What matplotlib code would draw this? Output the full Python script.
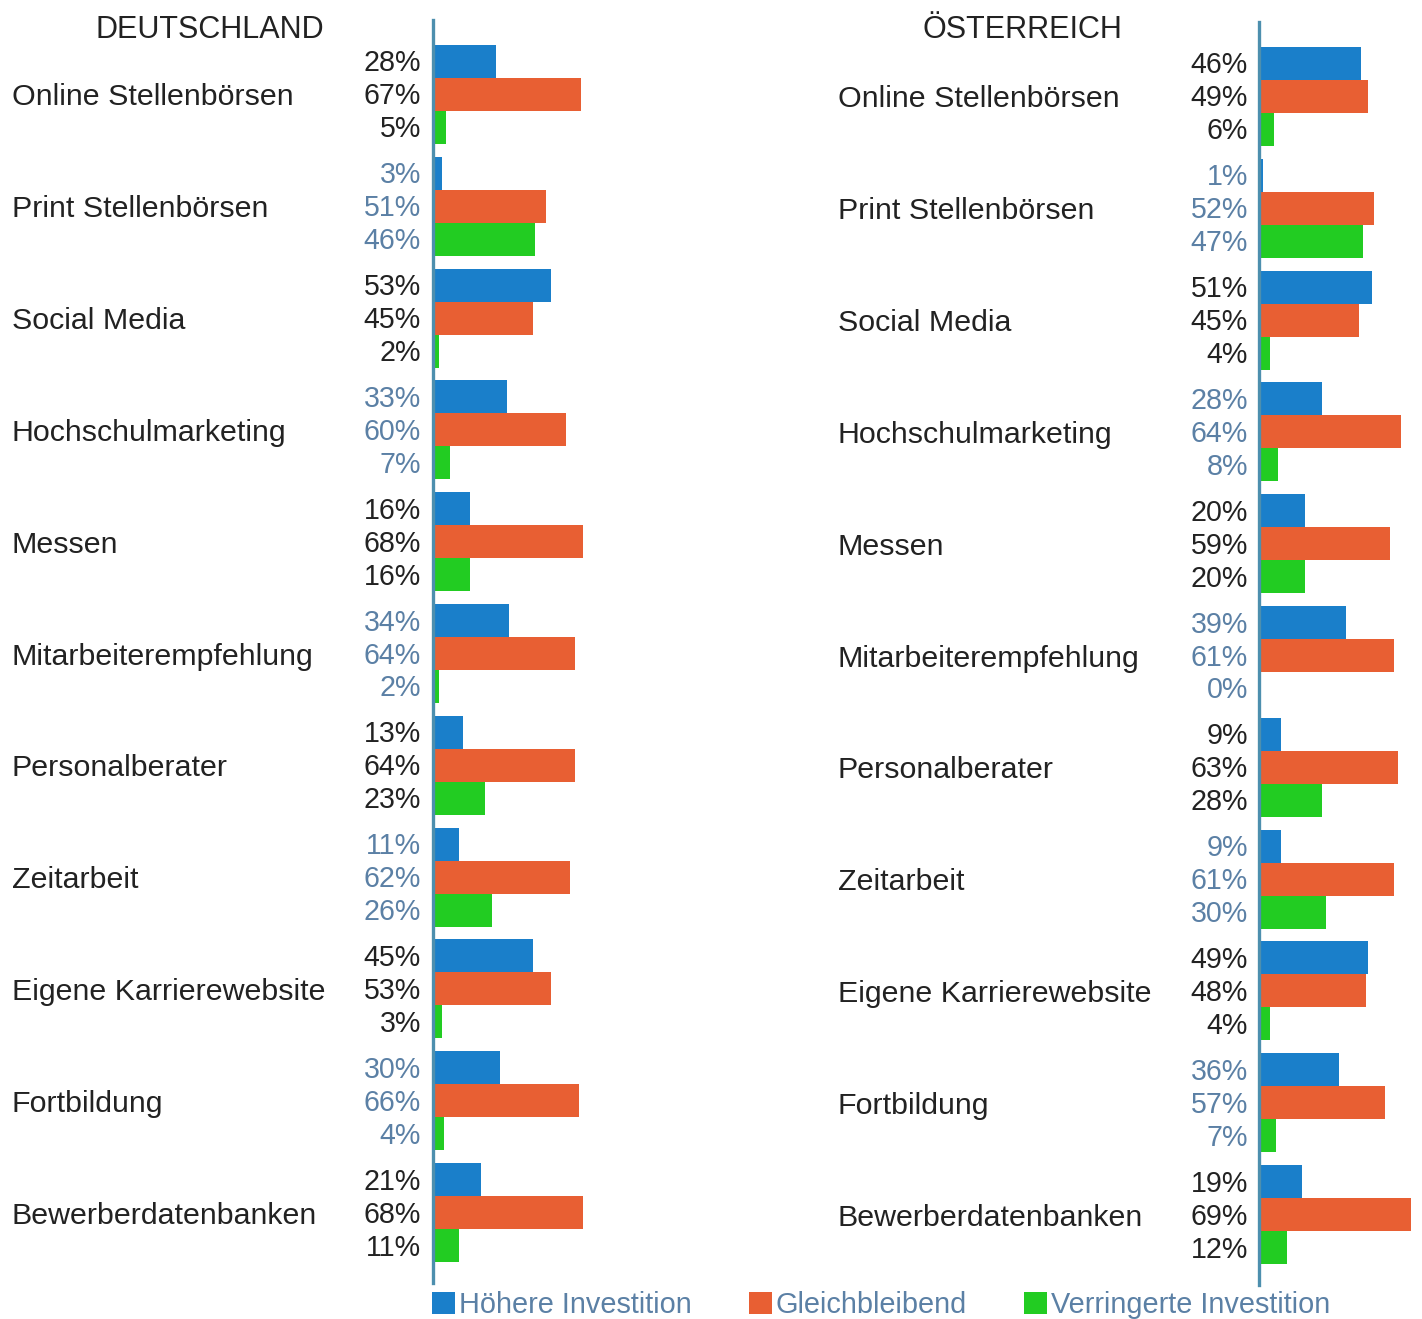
import numpy as np
import matplotlib
matplotlib.use('Agg')
import matplotlib.pyplot as plt
from matplotlib.patches import Patch
from matplotlib.transforms import blended_transform_factory, offset_copy

plt.rcParams['font.family'] = ['Liberation Sans', 'DejaVu Sans']

categories = ['Online Stellenbörsen', 'Print Stellenbörsen', 'Social Media',
              'Hochschulmarketing', 'Messen', 'Mitarbeiterempfehlung',
              'Personalberater', 'Zeitarbeit', 'Eigene Karrierewebsite',
              'Fortbildung', 'Bewerberdatenbanken']
series_names = ['Höhere Investition', 'Gleichbleibend', 'Verringerte Investition']

de_hoeher = [28, 3, 53, 33, 16, 34, 13, 11, 45, 30, 21]
de_gleich = [67, 51, 45, 60, 68, 64, 64, 62, 53, 66, 68]
de_verr = [5, 46, 2, 7, 16, 2, 23, 26, 3, 4, 11]

at_hoeher = [46, 1, 51, 28, 20, 39, 9, 9, 49, 36, 19]
at_gleich = [49, 52, 45, 64, 59, 61, 63, 61, 48, 57, 69]
at_verr = [6, 47, 4, 8, 20, 0, 28, 30, 4, 7, 12]

colors = ['#1a7fca', '#e85f33', '#22cc22']
label_dark = '#222222'
label_blue = '#5b80a5'
axis_col = '#4d8fae'

W, H = 1422, 1319
PX_PER_PCT = 2.18
bar_h = 0.295

fig = plt.figure(figsize=(W / 100, H / 100), dpi=100)


def panel(x0, top, bottom, xmax, data, cat_x, pct_x, title, title_x):
    ax = fig.add_axes([x0 / W, 1 - bottom / H, xmax * PX_PER_PCT / W, (bottom - top) / H])
    y = np.arange(len(categories))
    for k, vals in enumerate(data):
        ax.barh(y + (k - 1) * bar_h, vals, height=bar_h, color=colors[k],
                edgecolor='none')
    ax.set_xlim(0, xmax)
    ax.set_ylim(10.63, -0.666)
    for s in ['top', 'right', 'bottom']:
        ax.spines[s].set_visible(False)
    ax.spines['left'].set_position(('outward', 1.5))
    ax.spines['left'].set_color(axis_col)
    ax.spines['left'].set_linewidth(2.4)
    ax.set_xticks([])
    ax.set_yticks([])
    ax.patch.set_alpha(0)

    tr = blended_transform_factory(fig.transFigure, ax.transData)
    tr_cat = offset_copy(tr, fig=fig, y=-3, units='dots')
    tr_pct = offset_copy(tr, fig=fig, y=-2, units='dots')
    for i, cat in enumerate(categories):
        ax.text(cat_x / W, i, cat, transform=tr_cat, ha='left', va='center',
                fontsize=21.9, color=label_dark)
        col = label_dark if i % 2 == 0 else label_blue
        for k, vals in enumerate(data):
            ax.text(pct_x / W, i + (k - 1) * bar_h, f'{vals[i]}%', transform=tr_pct,
                    ha='right', va='center', fontsize=20.6, color=col)
    fig.text(title_x / W, 1 - 30 / H, title, ha='center', va='center',
             fontsize=22, color=label_dark)
    return ax


panel(435, 20, 1283, 120, [de_hoeher, de_gleich, de_verr], 12, 421,
      'DEUTSCHLAND', 210)
panel(1261, 22, 1285, 73.5, [at_hoeher, at_gleich, at_verr], 838, 1248,
      'ÖSTERREICH', 1022)

handles = [Patch(facecolor=c, edgecolor='none') for c in colors]
fig.legend(handles, series_names, loc='lower left',
           bbox_to_anchor=(432 / W, 0.0), ncol=3, frameon=False,
           fontsize=20.8, labelcolor=label_blue, handlelength=0.8,
           handleheight=0.8, handletextpad=0.15, columnspacing=1.95,
           borderpad=0, borderaxespad=0)

fig.savefig('out.png', dpi=100)
